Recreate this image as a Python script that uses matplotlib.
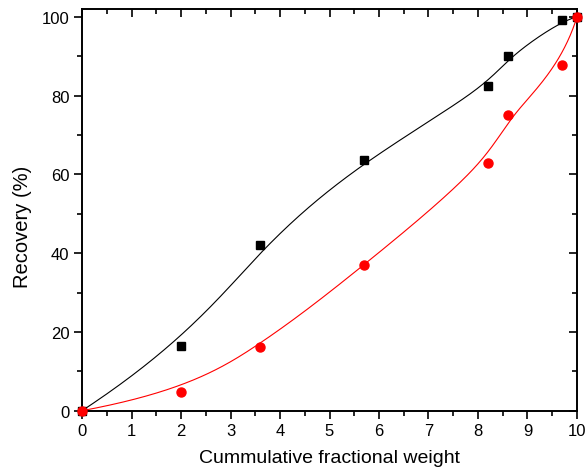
import matplotlib
matplotlib.use("Agg")
import matplotlib.pyplot as plt
import numpy as np
from matplotlib.ticker import MultipleLocator

plt.rcParams["font.family"] = ["Liberation Sans", "DejaVu Sans"]

weight = [0, 2, 3.6, 5.7, 8.2, 8.6, 9.7, 10]
recovery_black = [0, 16.5, 42.0, 63.6, 82.4, 90.0, 99.1, 100]
recovery_red = [0, 4.7, 16.2, 36.9, 63.0, 75.0, 87.9, 100]


def bspline(xs, ys, num=400, k=3):
    # clamped uniform cubic B-spline using the data points as control points
    pts = np.column_stack([xs, ys]).astype(float)
    n = len(pts)
    inner = np.arange(1, n - k)
    knots = np.concatenate([np.zeros(k + 1), inner, np.full(k + 1, n - k)])
    ts = np.linspace(0, n - k, num)
    out = []
    for t in ts:
        i = np.searchsorted(knots, t, side="right") - 1
        i = min(max(i, k), n - 1)
        d = [pts[j + i - k].copy() for j in range(k + 1)]
        for r in range(1, k + 1):
            for j in range(k, r - 1, -1):
                a = (t - knots[j + i - k]) / (knots[j + 1 + i - r] - knots[j + i - k])
                d[j] = (1 - a) * d[j - 1] + a * d[j]
        out.append(d[k])
    out = np.array(out)
    return out[:, 0], out[:, 1]


fig = plt.figure(figsize=(5.85, 4.77), dpi=100)
ax = fig.add_axes([0.1402, 0.1369, 0.8461, 0.8421])

bx, by = bspline(weight, recovery_black)
rx, ry = bspline(weight, recovery_red)
ax.plot(bx, by, color="black", lw=0.8)
ax.plot(rx, ry, color="red", lw=0.8)
ax.plot(weight, recovery_black, "s", color="black", ms=6, clip_on=False, zorder=3)
ax.plot(weight, recovery_red, "o", color="red", ms=6.5, clip_on=False, zorder=4)

ax.set_xlim(0, 10)
ax.set_ylim(0, 102)
ax.xaxis.set_major_locator(MultipleLocator(1))
ax.xaxis.set_minor_locator(MultipleLocator(0.5))
ax.yaxis.set_major_locator(MultipleLocator(20))
ax.yaxis.set_minor_locator(MultipleLocator(10))

for s in ax.spines.values():
    s.set_linewidth(1.4)
ax.tick_params(which="both", direction="out", width=1.2, labelsize=12, pad=3)
ax.tick_params(which="major", length=6)
ax.tick_params(which="minor", length=3.5)
ax.tick_params(which="both", top=True, right=True)

ax.set_xlabel("Cummulative fractional weight", fontsize=14, labelpad=8)
ax.set_ylabel("Recovery (%)", fontsize=14.5)
ax.yaxis.set_label_coords(-0.101, 0.461)

# top and right ticks point inward
for t in ax.xaxis.get_major_ticks() + ax.xaxis.get_minor_ticks():
    t.tick2line.set_marker(matplotlib.lines.TICKDOWN)
for t in ax.yaxis.get_major_ticks() + ax.yaxis.get_minor_ticks():
    t.tick2line.set_marker(matplotlib.lines.TICKLEFT)

fig.savefig("out.png", dpi=100)
